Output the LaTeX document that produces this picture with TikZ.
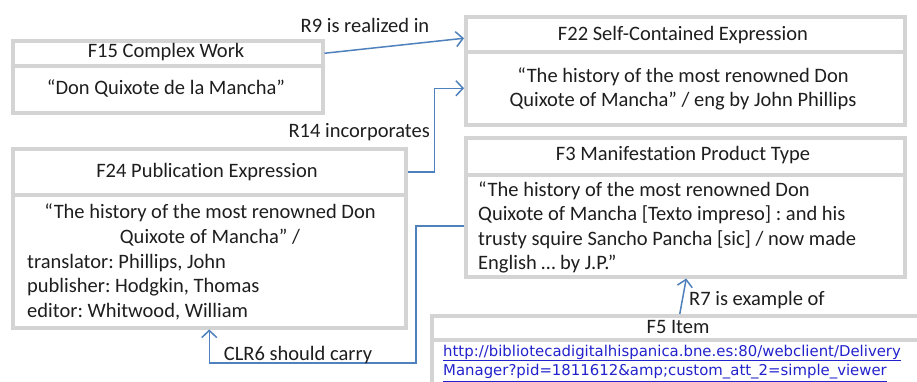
\documentclass[tikz,border=0pt]{standalone}
\usepackage{fontspec}
\setmainfont[Ligatures={NoCommon}]{Carlito}
\newfontfamily\urlfont{DejaVu Sans}
\usetikzlibrary{arrows.meta,calc}
\definecolor{boxgray}{RGB}{212,212,212}
\definecolor{arrblue}{RGB}{79,129,189}
\definecolor{txt}{RGB}{30,30,30}
\definecolor{linkblue}{RGB}{35,35,205}
\frenchspacing
\begin{document}
\begin{tikzpicture}[x=1bp,y=-1bp,
  part/.style={draw=boxgray, line width=3.5bp, fill=white, inner sep=0pt, anchor=north west},
  lbl/.style={font=\fontsize{20.5bp}{24.5bp}\selectfont, text=txt, inner sep=0pt},
  arr/.style={draw=arrblue, line width=1.5bp, -{Straight Barb[length=7bp,width=15bp,line width=1.5bp]}},
  urltext/.style={font=\urlfont\fontsize{14.9bp}{20bp}\selectfont, text=linkblue, inner sep=0pt, anchor=west}]
\fill[white] (0,0) rectangle (917,381);
\useasboundingbox (0,0) rectangle (917,381);

% F15
\node[part, minimum width=310bp, minimum height=25bp] (f15h) at (11,39) {};
\node[part, minimum width=310bp, minimum height=47bp] (f15b) at (11,64) {};
% F22
\node[part, minimum width=439bp, minimum height=35bp] (f22h) at (464,15) {};
\node[part, minimum width=439bp, minimum height=73bp] (f22b) at (464,50) {};
% F24
\node[part, minimum width=393bp, minimum height=46bp] (f24h) at (11,147) {};
\node[part, minimum width=393bp, minimum height=133bp] (f24b) at (11,193) {};
% F3
\node[part, minimum width=439bp, minimum height=37bp] (f3h) at (464,136) {};
\node[part, minimum width=439bp, minimum height=102bp] (f3b) at (464,173) {};
% F5
\node[part, minimum width=496bp, minimum height=24bp] (f5h) at (430,314) {};
\node[part, minimum width=496bp, minimum height=82bp] (f5b) at (430,338) {};

% texts
\node[lbl] (t15h) at (166,52) {F15 Complex Work};
\node[lbl] (t15b) at (166,88) {“Don Quixote de la Mancha”};
\node[lbl] (t22h) at (683,35) {F22 Self-Contained Expression};
\node[lbl, align=center] (t22b) at (683,89) {“The history of the most renowned Don\\Quixote of Mancha” / eng by John Phillips};
\node[lbl] (t24h) at (207,172) {F24 Publication Expression};
\node[lbl, align=center] (t24b) at (210,225) {“The history of the most renowned Don\\Quixote of Mancha” /};
\node[lbl, align=left, anchor=west] (t24c) at (27,287) {translator: Phillips, John\\publisher: Hodgkin, Thomas\\editor: Whitwood, William};
\node[lbl] (t3h) at (683,155) {F3 Manifestation Product Type};
\node[lbl, align=left, anchor=west] (t3b) at (478,227.5) {“The history of the most renowned Don\\Quixote of Mancha [Texto impreso] : and his\\trusty squire Sancho Pancha [sic] / now made\\English … by J.P.”};
\node[lbl] (t5h) at (678,327) {F5 Item};
\node[urltext] (u1) at (443,353) {\underline{http://bibliotecadigitalhispanica.bne.es:80/webclient/Delivery}};
\node[urltext] (u2) at (443,373) {\underline{Manager?pid=1811612\&amp;custom\_att\_2=simple\_viewer}};

% connectors
\draw[arr] (f15h.east) -- ($(f22h.west)+(0,4)$);
\draw[arr] (f24h.east) -- ++(27,0) |- (f22b.west);
\coordinate (c6) at (416,363);
\draw[arr] (f3b.west) -| (c6) -| (f24b.south);
\draw[arr] (f5h.north) -- ($(f3b.south)+(1,0)$);

% connector labels
\node[lbl] (r9) at (365,25) {R9 is realized in};
\node[lbl, anchor=east] (r14) at (430,132) {R14 incorporates};
\node[lbl] (clr6) at (298,355) {CLR6 should carry};
\node[lbl, anchor=west] (r7) at (689,300) {R7 is example of};
\end{tikzpicture}
\end{document}
